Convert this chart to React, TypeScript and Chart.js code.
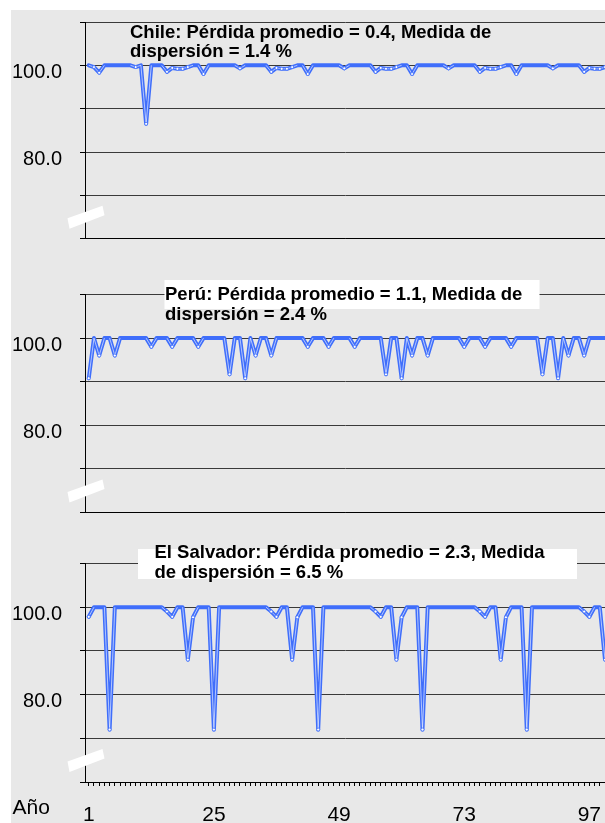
import React, { useEffect, useRef } from 'react';
import { Chart, registerables } from 'chart.js';

Chart.register(...registerables);

// ---------------- data ----------------
const years = Array.from({ length: 100 }, (_, i) => i + 1);
const xTickLabels = [1, 25, 49, 73, 97];
const yTickLabels = [100, 80];
const xAxisTitle = 'Año';

const chileValues = [
  100, 99.6, 98.3, 100, 100, 100, 100, 100, 100, 99.6,
  100, 86.5, 100, 100, 100, 98.5, 99.4, 99.2, 99.2, 99.6,
  100, 100, 98.0, 100, 100, 100, 100, 100, 100, 99.3,
  100, 100, 100, 100, 100, 98.5, 99.4, 99.2, 99.2, 99.6,
  100, 100, 98.0, 100, 100, 100, 100, 100, 100, 99.3,
  100, 100, 100, 100, 100, 98.5, 99.4, 99.2, 99.2, 99.6,
  100, 100, 98.0, 100, 100, 100, 100, 100, 100, 99.3,
  100, 100, 100, 100, 100, 98.5, 99.4, 99.2, 99.2, 99.6,
  100, 100, 98.0, 100, 100, 100, 100, 100, 100, 99.3,
  100, 100, 100, 100, 100, 98.5, 99.4, 99.2, 99.2, 99.6,
];

const peruValues = [
  90.8, 100, 96, 100, 100, 96, 100, 100, 100, 100,
  100, 100, 98, 100, 100, 100, 98, 100, 100, 100,
  100, 98, 100, 100, 100, 100, 100, 91.7, 100, 100,
  90.8, 100, 96, 100, 100, 96, 100, 100, 100, 100,
  100, 100, 98, 100, 100, 100, 98, 100, 100, 100,
  100, 98, 100, 100, 100, 100, 100, 91.7, 100, 100,
  90.8, 100, 96, 100, 100, 96, 100, 100, 100, 100,
  100, 100, 98, 100, 100, 100, 98, 100, 100, 100,
  100, 98, 100, 100, 100, 100, 100, 91.7, 100, 100,
  90.8, 100, 96, 100, 100, 96, 100, 100, 100, 100,
];

const salvadorValues = [
  97.8, 100, 100, 100, 72, 100, 100, 100, 100, 100,
  100, 100, 100, 100, 100, 99, 97.8, 100, 100, 88,
  97.7, 100, 100, 100, 72, 100, 100, 100, 100, 100,
  100, 100, 100, 100, 100, 99, 97.8, 100, 100, 88,
  97.7, 100, 100, 100, 72, 100, 100, 100, 100, 100,
  100, 100, 100, 100, 100, 99, 97.8, 100, 100, 88,
  97.7, 100, 100, 100, 72, 100, 100, 100, 100, 100,
  100, 100, 100, 100, 100, 99, 97.8, 100, 100, 88,
  97.7, 100, 100, 100, 72, 100, 100, 100, 100, 100,
  100, 100, 100, 100, 100, 99, 97.8, 100, 100, 88,
];

const chileTitle = ['Chile: Pérdida promedio = 0.4, Medida de', 'dispersión = 1.4 %'];
const peruTitle = ['Perú: Pérdida promedio = 1.1, Medida de', 'dispersión = 2.4 %'];
const salvadorTitle = ['El Salvador: Pérdida promedio = 2.3, Medida', 'de dispersión = 6.5 %'];

// ---------------- styling / layout ----------------
const FONT = '"Liberation Sans", Arial, Helvetica, sans-serif';
const BLUE = '#3F6EFB';
const GRID = '#3a3a3a';

type Box = { x: number; y: number; w: number; h: number };
type PanelDef = {
  key: string;
  title: string[];
  values: number[];
  top: number;
  height: number;
  padTop: number;
  padBottom: number;
  xHeight: number;
  showX: boolean;
  titleX: number;
  baselines: number[];
  box?: Box;
};

const panels: PanelDef[] = [
  {
    key: 'chile', title: chileTitle, values: chileValues,
    top: 0, height: 255, padTop: 22, padBottom: 16.3, xHeight: 0, showX: false,
    titleX: 130, baselines: [37.5, 57],
  },
  {
    key: 'peru', title: peruTitle, values: peruValues,
    top: 255, height: 275, padTop: 39.5, padBottom: 17.5, xHeight: 0, showX: false,
    titleX: 165, baselines: [44.5, 65],
    box: { x: 164.5, y: 25, w: 375, h: 29 },
  },
  {
    key: 'salvador', title: salvadorTitle, values: salvadorValues,
    top: 530, height: 293, padTop: 33.5, padBottom: 0, xHeight: 41, showX: true,
    titleX: 154.5, baselines: [27.5, 48],
    box: { x: 138, y: 19, w: 439, h: 30 },
  },
];

function makeDecorPlugin(p: PanelDef) {
  return {
    id: 'decor_' + p.key,
    afterDraw(chart: any) {
      const ctx = chart.ctx as CanvasRenderingContext2D;
      const b = chart.chartArea.bottom;
      ctx.save();
      // axis-break marker
      ctx.fillStyle = '#ffffff';
      ctx.beginPath();
      ctx.moveTo(67.5, b - 20.5);
      ctx.lineTo(102.5, b - 33);
      ctx.lineTo(104.5, b - 23.5);
      ctx.lineTo(69.5, b - 10);
      ctx.closePath();
      ctx.fill();
      // title box
      if (p.box) {
        ctx.fillStyle = '#ffffff';
        ctx.fillRect(p.box.x, p.box.y, p.box.w, p.box.h);
      }
      ctx.fillStyle = '#000000';
      ctx.textAlign = 'left';
      ctx.textBaseline = 'alphabetic';
      ctx.font = `bold 18.5px ${FONT}`;
      p.title.forEach((line, i) => ctx.fillText(line, p.titleX, p.baselines[i]));
      if (p.showX) {
        ctx.font = `21px ${FONT}`;
        ctx.fillText(xAxisTitle, 12.5, 284);
      }
      ctx.restore();
    },
  };
}

function Panel({ p }: { p: PanelDef }) {
  const ref = useRef<HTMLCanvasElement | null>(null);
  useEffect(() => {
    if (!ref.current) return;
    const chart = new Chart(ref.current, {
      type: 'line',
      data: {
        labels: years,
        datasets: [
          {
            data: p.values,
            borderColor: BLUE,
            borderWidth: 4,
            borderJoinStyle: 'round',
            borderCapStyle: 'round',
            pointRadius: 0,
            tension: 0,
            order: 2,
          },
          {
            data: p.values,
            borderColor: 'rgba(0,0,0,0)',
            borderWidth: 1,
            tension: 0,
            order: 1,
            segment: {
              borderColor: (c: any) =>
                c.p0.parsed.y < 100 || c.p1.parsed.y < 100 ? 'rgba(255,255,255,0.6)' : 'rgba(0,0,0,0)',
            },
            pointRadius: (c: any) => (c.raw < 100 ? 1.5 : 0),
            pointBackgroundColor: '#ffffff',
            pointBorderColor: BLUE,
            pointBorderWidth: 0.8,
          },
        ],
      },
      options: {
        animation: false,
        responsive: false,
        devicePixelRatio: 1,
        events: [],
        layout: { autoPadding: false, padding: { top: p.padTop, bottom: p.padBottom, left: 0, right: 0 } },
        plugins: { legend: { display: false }, tooltip: { enabled: false }, title: { display: false } },
        scales: {
          x: {
            type: 'linear',
            min: 0.28,
            max: 100,
            afterBuildTicks: (s: any) => {
              s.ticks = years.map((v) => ({ value: v }));
            },
            afterFit: (s: any) => {
              s.height = p.xHeight;
              s.paddingLeft = 0;
              s.paddingRight = 0;
              s.paddingTop = 0;
              s.paddingBottom = 0;
            },
            ticks: {
              display: p.showX,
              autoSkip: false,
              maxRotation: 0,
              minRotation: 0,
              padding: 17,
              color: '#000',
              font: { size: 21, family: FONT },
              callback: (v: any) => (xTickLabels.includes(Number(v)) ? String(v) : ''),
            },
            grid: { drawOnChartArea: false, drawTicks: p.showX, tickLength: 4, tickColor: '#000' },
            border: { display: true, color: '#000', width: 1 },
          },
          y: {
            min: 60,
            max: 110,
            afterFit: (s: any) => {
              s.width = 85;
              s.paddingLeft = 0;
              s.paddingRight = 0;
              s.paddingTop = 0;
              s.paddingBottom = 0;
            },
            ticks: {
              stepSize: 10,
              padding: 18,
              labelOffset: 7,
              color: '#000',
              font: { size: 20, family: FONT },
              callback: (v: any) => (yTickLabels.includes(Number(v)) ? Number(v).toFixed(1) : ''),
            },
            grid: { color: GRID, lineWidth: 1, tickLength: 5, tickColor: '#000' },
            border: { display: true, color: '#000', width: 1 },
          },
        },
      } as any,
      plugins: [makeDecorPlugin(p)],
    });
    return () => chart.destroy();
  }, [p]);
  return (
    <canvas
      ref={ref}
      width={605}
      height={p.height}
      style={{ position: 'absolute', left: 0, top: p.top, width: 605, height: p.height, display: 'block' }}
    />
  );
}

export default function App() {
  return (
    <div
      style={{
        position: 'absolute', left: 0, top: 0, width: 605, height: 823,
        background: '#ffffff', overflow: 'hidden',
      }}
    >
      <div style={{ position: 'absolute', left: 11, top: 10, right: 0, bottom: 0, background: '#E8E8E8' }} />
      {panels.map((p) => (
        <Panel key={p.key} p={p} />
      ))}
    </div>
  );
}
